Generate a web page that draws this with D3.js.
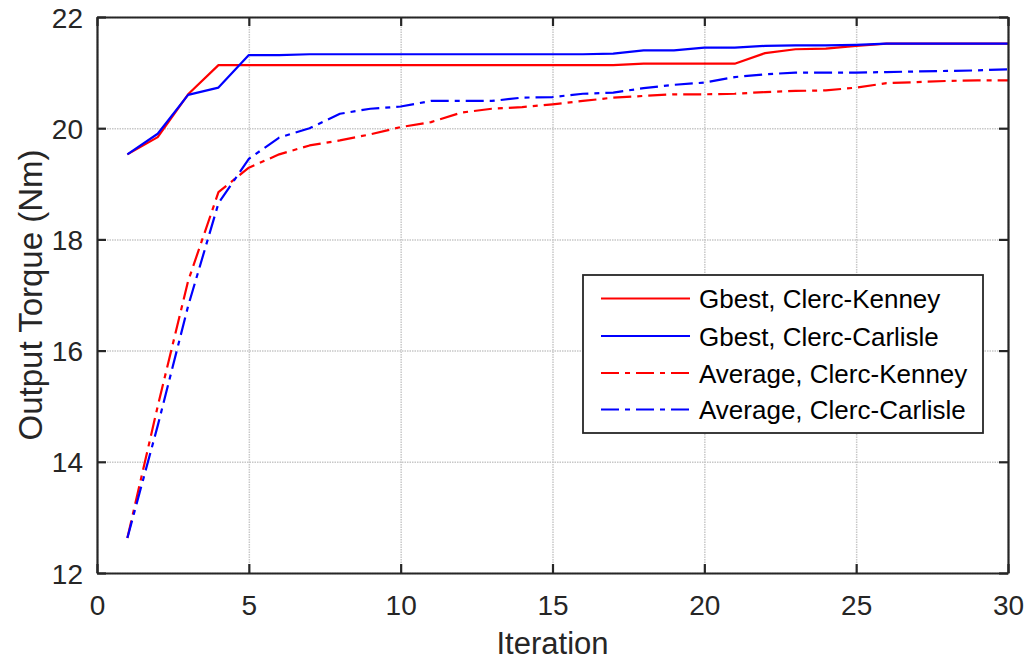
<!DOCTYPE html>
<html><head><meta charset="utf-8">
<script src="https://cdn.jsdelivr.net/npm/d3@7"></script>
<style>
body{margin:0;background:#fff;}
svg{display:block;}
</style></head>
<body><svg id="c" width="1027" height="662"></svg>
<script>
const iterations = d3.range(1, 31);
const gbestKenney = [19.53,19.84,20.61,21.135,21.135,21.135,21.135,21.135,21.135,21.135,21.135,21.135,21.135,21.135,21.135,21.135,21.135,21.16,21.16,21.16,21.16,21.35,21.42,21.43,21.48,21.52,21.52,21.52,21.52,21.52];
const gbestCarlisle = [19.53,19.90,20.60,20.73,21.315,21.315,21.33,21.33,21.33,21.33,21.33,21.33,21.33,21.33,21.33,21.33,21.34,21.40,21.40,21.45,21.45,21.48,21.49,21.49,21.50,21.52,21.52,21.52,21.52,21.52];
const avgKenney = [12.63,15.0,17.25,18.85,19.29,19.53,19.69,19.78,19.89,20.02,20.11,20.28,20.35,20.38,20.43,20.49,20.55,20.58,20.61,20.61,20.62,20.65,20.67,20.68,20.73,20.81,20.83,20.85,20.86,20.86];
const avgCarlisle = [12.63,14.65,16.8,18.65,19.45,19.83,20.0,20.26,20.35,20.39,20.49,20.49,20.49,20.55,20.56,20.62,20.64,20.72,20.78,20.82,20.92,20.97,21.0,21.0,21.0,21.01,21.02,21.03,21.04,21.06];
const seriesNames = ["Gbest, Clerc-Kenney","Gbest, Clerc-Carlisle","Average, Clerc-Kenney","Average, Clerc-Carlisle"];
const xTicks = [0,5,10,15,20,25,30];
const yTicks = [12,14,16,18,20,22];
const xLabel = "Iteration";
const yLabel = "Output Torque (Nm)";

const dashDot = "18,6,5,6";
const series = [
  {name: seriesNames[0], values: gbestKenney, color: "#ff0000", dash: null},
  {name: seriesNames[1], values: gbestCarlisle, color: "#0000ff", dash: null},
  {name: seriesNames[2], values: avgKenney, color: "#ff0000", dash: dashDot},
  {name: seriesNames[3], values: avgCarlisle, color: "#0000ff", dash: dashDot}
];

const L = 97, R = 1008, T = 17, B = 573;
const svg = d3.select("#c");
const x = d3.scaleLinear().domain([0,30]).range([L,R]);
const y = d3.scaleLinear().domain([12,22]).range([B,T]);
const font = "'Liberation Sans',Arial,Helvetica,sans-serif";
const axisColor = "#262626";

// grid
const gx = svg.append("g").attr("transform",`translate(0,${B})`)
  .call(d3.axisBottom(x).tickValues(xTicks).tickSize(-(B-T)).tickFormat(""));
const gy = svg.append("g").attr("transform",`translate(${L},0)`)
  .call(d3.axisLeft(y).tickValues(yTicks).tickSize(-(R-L)).tickFormat(""));
[gx,gy].forEach(g=>{
  g.select(".domain").remove();
  g.selectAll(".tick line").attr("stroke","#c8c8c8").attr("stroke-width",1.5).attr("stroke-dasharray","1.5,1");
});

// lines
const line = d3.line().x((d,i)=>x(iterations[i])).y(d=>y(d));
svg.append("defs").append("clipPath").attr("id","clip")
  .append("rect").attr("x",L).attr("y",T).attr("width",R-L).attr("height",B-T);
const lg = svg.append("g").attr("clip-path","url(#clip)");
series.forEach(s=>{
  lg.append("path").datum(s.values).attr("d",line)
    .attr("fill","none").attr("stroke",s.color).attr("stroke-width",2.2)
    .attr("stroke-linejoin","round")
    .attr("stroke-dasharray",s.dash);
});

// axes (ticks inward)
const axB = svg.append("g").attr("transform",`translate(0,${B})`)
  .call(d3.axisBottom(x).tickValues(xTicks).tickSizeInner(-9).tickSizeOuter(0));
const axT = svg.append("g").attr("transform",`translate(0,${T})`)
  .call(d3.axisTop(x).tickValues(xTicks).tickSizeInner(-9).tickSizeOuter(0).tickFormat(""));
const axL = svg.append("g").attr("transform",`translate(${L},0)`)
  .call(d3.axisLeft(y).tickValues(yTicks).tickSizeInner(-9).tickSizeOuter(0));
const axR = svg.append("g").attr("transform",`translate(${R},0)`)
  .call(d3.axisRight(y).tickValues(yTicks).tickSizeInner(-9).tickSizeOuter(0).tickFormat(""));
[axB,axT,axL,axR].forEach(g=>{
  g.select(".domain").attr("stroke",axisColor).attr("stroke-width",2.2);
  g.selectAll(".tick line").attr("stroke",axisColor).attr("stroke-width",2.2);
  g.selectAll(".tick text").attr("fill",axisColor).style("font-family",font).style("font-size","28px");
});
axB.selectAll(".tick text").attr("dy",null).attr("y",42);
axL.selectAll(".tick text").attr("dy","0.36em").attr("x",-14);

// axis labels
svg.append("text").attr("x",(L+R)/2).attr("y",654).attr("text-anchor","middle")
  .style("font-family",font).style("font-size","31px").attr("fill",axisColor).text(xLabel);
svg.append("text").attr("transform",`translate(42,${(T+B)/2}) rotate(-90)`)
  .attr("text-anchor","middle")
  .style("font-family",font).style("font-size","33px")
  .attr("fill",axisColor).text(yLabel);

// legend
const leg = svg.append("g");
leg.append("rect").attr("x",583).attr("y",275).attr("width",400).attr("height",158)
  .attr("fill","#fff").attr("stroke",axisColor).attr("stroke-width",1.8);
const rowY = [298.5,336,373,409.5];
series.forEach((s,i)=>{
  leg.append("line").attr("x1",601).attr("x2",690).attr("y1",rowY[i]).attr("y2",rowY[i])
    .attr("stroke",s.color).attr("stroke-width",2.2).attr("stroke-dasharray",s.dash);
  leg.append("text").attr("x",699).attr("y",rowY[i]+9.5)
    .style("font-family",font).style("font-size","26px")
    .attr("fill","#000").text(s.name);
});
</script></body></html>
